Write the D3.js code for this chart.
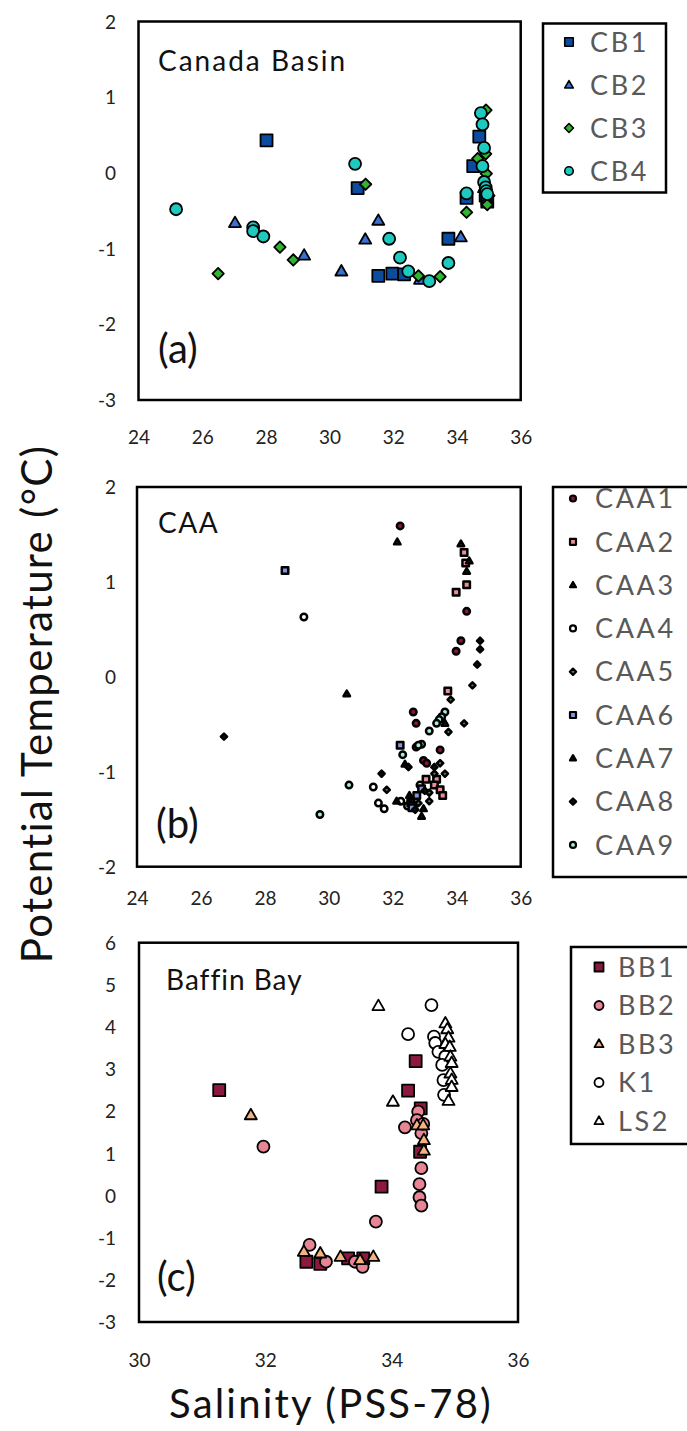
<!DOCTYPE html>
<html>
<head>
<meta charset="utf-8">
<script src="https://cdn.jsdelivr.net/npm/d3@7"></script>
<style>
  html, body { margin: 0; padding: 0; background: #fff; }
  svg { display: block; font-family: Lato, "Open Sans", sans-serif; }
</style>
</head>
<body>
<svg id="chart" width="687" height="1431"></svg>
<script>
// ---- Canada Basin: salinity / potential temperature pairs ----
const cb1 = [[28.02,0.43],[30.88,-0.2],[34.7,0.48],[34.51,0.09],[34.3,-0.33],[31.53,-1.36],[31.97,-1.33],[32.34,-1.34],[33.73,-0.87],[34.9,-0.3],[34.95,-0.38]];
const cb2 = [[27.03,-0.66],[29.2,-1.09],[30.37,-1.3],[31.53,-0.63],[31.12,-0.88],[32.84,-1.41],[34.12,-0.85],[34.85,-0.2],[34.95,-0.35]];
const cb3 = [[26.5,-1.33],[28.44,-0.98],[28.86,-1.15],[31.13,-0.15],[32.79,-1.36],[33.47,-1.37],[34.3,-0.52],[34.91,0.83],[34.65,0.19],[34.9,0.25],[34.92,-0.01],[35.0,-0.3],[34.95,-0.42]];
const cb4 = [[25.18,-0.48],[27.6,-0.72],[27.6,-0.77],[27.92,-0.84],[30.8,0.12],[31.87,-0.87],[32.21,-1.12],[32.47,-1.3],[33.13,-1.43],[33.73,-1.19],[34.3,-0.27],[34.75,0.79],[34.8,0.64],[34.85,0.33],[34.8,0.09],[34.85,-0.12],[34.9,-0.19],[34.92,-0.24],[34.95,-0.28]];

// ---- Canadian Arctic Archipelago ----
const caa1 = [[32.23,1.59],[34.31,0.69],[34.13,0.38],[33.98,0.27],[32.64,-0.37],[32.73,-0.49],[32.73,-0.74],[33.48,-0.77],[32.96,-0.88],[33.06,-0.91]];
const caa2 = [[34.23,1.31],[34.28,1.2],[34.31,0.97],[33.98,0.89],[33.72,-0.15],[33.04,-1.08],[33.37,-1.08],[33.3,-1.14],[33.48,-1.19],[33.56,-1.25]];
const caa3 = [[32.14,1.42],[34.13,1.4],[34.39,1.22],[34.31,1.11],[30.56,-0.18],[33.63,-0.49]];
const caa4 = [[29.22,0.63],[31.39,-1.16],[31.55,-1.33],[31.73,-1.39],[32.25,-1.31],[32.46,-1.36],[32.64,-1.37],[32.85,-1.14]];
const caa5 = [[34.49,-0.09],[33.81,-0.24],[34.23,-0.49],[33.74,-0.58],[33.48,-0.91],[33.63,-1.02],[33.3,-1.02],[31.81,-1.19],[33.14,-1.31],[33.14,-1.22],[32.8,-1.33]];
const caa6 = [[28.63,1.12],[32.23,-0.72],[32.75,-1.25],[32.56,-1.33],[32.6,-1.38],[32.9,-1.18]];
const caa7 = [[32.38,-0.92],[32.12,-1.31],[32.96,-1.39],[32.9,-1.47],[32.52,-1.25],[32.6,-1.3]];
const caa8 = [[26.72,-0.63],[34.73,0.38],[34.73,0.29],[34.64,0.13],[32.49,-0.95],[31.65,-1.02],[33.3,-0.95],[32.7,-1.4],[33.0,-1.2]];
const caa9 = [[33.63,-0.37],[33.53,-0.42],[33.45,-0.45],[33.37,-0.49],[33.14,-0.57],[32.9,-0.71],[32.31,-0.82],[30.63,-1.14],[29.72,-1.45],[32.8,-0.72]];

// ---- Baffin Bay ----
const bb1 = [[31.27,2.5],[34.38,3.19],[34.26,2.49],[34.46,2.07],[34.45,1.04],[33.84,0.21],[32.65,-1.57],[32.87,-1.62],[33.31,-1.49],[33.55,-1.49]];
const bb2 = [[31.97,1.16],[34.21,1.62],[34.42,1.99],[34.4,1.79],[34.47,1.48],[34.5,1.7],[34.47,0.65],[34.44,0.27],[34.44,-0.04],[34.47,-0.24],[33.75,-0.62],[32.7,-1.17],[32.96,-1.57],[33.42,-1.57],[33.54,-1.69]];
const bb3 = [[31.77,1.91],[34.4,1.67],[34.5,1.67],[34.51,1.32],[34.51,1.07],[32.61,-1.33],[32.87,-1.37],[33.19,-1.45],[33.5,-1.53],[33.71,-1.45]];
const k1  = [[34.63,4.52],[34.26,3.83],[34.67,3.77],[34.69,3.62],[34.74,3.41],[34.85,3.3],[34.8,3.1],[34.82,2.74],[34.83,2.39]];
const ls2 = [[33.79,4.5],[34.02,2.23],[34.85,4.09],[34.88,3.95],[34.9,3.75],[34.85,3.6],[34.92,3.53],[34.93,3.3],[34.95,3.15],[34.93,2.9],[34.95,2.75],[34.95,2.58],[34.9,2.25]];

// ---- tick labels ----
const xTicksWide = [24, 26, 28, 30, 32, 34, 36];
const xTicksNarrow = [30, 32, 34, 36];
const yTicksA = [-3, -2, -1, 0, 1, 2];
const yTicksB = [-2, -1, 0, 1, 2];
const yTicksC = [-3, -2, -1, 0, 1, 2, 3, 4, 5, 6];

const svg = d3.select("#chart");

// marker outline of a given overall width, centred at the origin
function markerPath(shape, w) {
  const p = d3.path();
  const h = w / 2;
  if (shape === "square") {
    p.rect(-h, -h, w, w);
  } else if (shape === "circle") {
    p.arc(0, 0, h, 0, 2 * Math.PI);
    p.closePath();
  } else if (shape === "triangle") {
    const th = w * 0.87;
    p.moveTo(0, -th * 0.6);
    p.lineTo(h, th * 0.4);
    p.lineTo(-h, th * 0.4);
    p.closePath();
  } else if (shape === "diamond") {
    p.moveTo(0, -h); p.lineTo(h, 0); p.lineTo(0, h); p.lineTo(-h, 0); p.closePath();
  }
  return p.toString();
}

const intLabel = d => (d < 0 ? "-" + Math.abs(d) : String(d));

function drawPanel(cfg) {
  const x = d3.scaleLinear().domain(cfg.xDomain).range([cfg.left, cfg.right]);
  const y = d3.scaleLinear().domain(cfg.yDomain).range([cfg.bottom, cfg.top]);
  const g = svg.append("g");

  // axes carry only the labels; the frame is drawn separately
  const xAxis = d3.axisBottom(x).tickValues(cfg.xTicks).tickSize(0).tickPadding(0).tickFormat(intLabel);
  const ga = g.append("g").attr("transform", `translate(0,${cfg.bottom})`).call(xAxis);
  ga.select(".domain").remove();
  ga.selectAll("text").attr("dy", null).attr("y", cfg.xLabelOffset)
    .attr("font-size", 19).attr("fill", "#222").attr("font-family", "Lato");

  const yAxis = d3.axisLeft(y).tickValues(cfg.yTicks).tickSize(0).tickPadding(0).tickFormat(intLabel);
  const gy = g.append("g").attr("transform", `translate(${cfg.yLabelX},0)`).call(yAxis);
  gy.select(".domain").remove();
  gy.selectAll("text").attr("dy", "0.35em").attr("x", 0)
    .attr("font-size", 19).attr("fill", "#222").attr("font-family", "Lato");

  // series markers
  cfg.series.forEach(s => {
    g.append("g").selectAll("path").data(s.data).join("path")
      .attr("d", markerPath(s.shape, s.shape === "diamond" ? cfg.size * 0.95 : cfg.size))
      .attr("transform", d => `translate(${x(d[0])},${y(d[1])})`)
      .attr("fill", s.fill)
      .attr("stroke", "#000")
      .attr("stroke-width", cfg.stroke)
      .attr("stroke-linejoin", "round");
  });

  // plot frame
  g.append("rect")
    .attr("x", cfg.left).attr("y", cfg.top)
    .attr("width", cfg.right - cfg.left).attr("height", cfg.bottom - cfg.top)
    .attr("fill", "none").attr("stroke", "#000").attr("stroke-width", 2.5);

  g.append("text").attr("x", cfg.titleX).attr("y", cfg.titleY)
    .attr("font-size", 28).attr("letter-spacing", cfg.titleSpacing).attr("fill", "#111")
    .text(cfg.title);
  g.append("text").attr("x", cfg.tagX).attr("y", cfg.tagY)
    .attr("font-size", 40).attr("fill", "#111").text(cfg.tag);

  // legend
  const L = cfg.legend;
  g.append("rect").attr("x", L.x).attr("y", L.y).attr("width", L.w).attr("height", L.h)
    .attr("fill", "#fff").attr("stroke", "#000").attr("stroke-width", 2.5);
  cfg.series.forEach((s, i) => {
    const cy = L.firstY + i * L.step;
    g.append("path")
      .attr("d", markerPath(s.shape, s.shape === "diamond" ? L.size * 1.05 : L.size))
      .attr("transform", `translate(${L.markX},${cy})`)
      .attr("fill", s.fill).attr("stroke", "#000").attr("stroke-width", L.stroke)
      .attr("stroke-linejoin", "round");
    g.append("text").attr("x", L.textX).attr("y", cy).attr("dy", "0.36em")
      .attr("font-size", L.font).attr("letter-spacing", 2.6).attr("fill", "#595959")
      .text(s.name);
  });
}

drawPanel({
  xDomain: [24, 36], yDomain: [-3, 2], xTicks: xTicksWide, yTicks: yTicksA,
  left: 138.5, right: 520.7, top: 21.5, bottom: 400,
  xLabelOffset: 44, yLabelX: 116,
  size: 12, stroke: 1.8,
  title: "Canada Basin", titleX: 158, titleY: 71, titleSpacing: 2,
  tag: "(a)", tagX: 158, tagY: 363,
  series: [
    { name: "CB1", data: cb1, shape: "square", fill: "#0b4c9f" },
    { name: "CB2", data: cb2, shape: "triangle", fill: "#3a72d4" },
    { name: "CB3", data: cb3, shape: "diamond", fill: "#2fb52f" },
    { name: "CB4", data: cb4, shape: "circle", fill: "#1ec9bf" }
  ],
  legend: { x: 543, y: 23.5, w: 123, h: 169, firstY: 42, step: 43, markX: 569,
            textX: 590, size: 8.5, stroke: 1.6, font: 27 }
});

drawPanel({
  xDomain: [24, 36], yDomain: [-2, 2], xTicks: xTicksWide, yTicks: yTicksB,
  left: 137, right: 520.7, top: 487, bottom: 866.7,
  xLabelOffset: 38, yLabelX: 116,
  size: 6.5, stroke: 2.5,
  title: "CAA", titleX: 158, titleY: 533, titleSpacing: 1.5,
  tag: "(b)", tagX: 156, tagY: 838,
  series: [
    { name: "CAA1", data: caa1, shape: "circle", fill: "#8c1538" },
    { name: "CAA2", data: caa2, shape: "square", fill: "#ec8e98" },
    { name: "CAA3", data: caa3, shape: "triangle", fill: "#222" },
    { name: "CAA4", data: caa4, shape: "circle", fill: "#ffffff" },
    { name: "CAA5", data: caa5, shape: "diamond", fill: "#4a8a55" },
    { name: "CAA6", data: caa6, shape: "square", fill: "#8597d6" },
    { name: "CAA7", data: caa7, shape: "triangle", fill: "#111" },
    { name: "CAA8", data: caa8, shape: "diamond", fill: "#111" },
    { name: "CAA9", data: caa9, shape: "circle", fill: "#a6ece2" }
  ],
  legend: { x: 553, y: 487, w: 160, h: 390, firstY: 498.5, step: 43.3, markX: 573,
            textX: 595, size: 6, stroke: 2.2, font: 27 }
});

drawPanel({
  xDomain: [30, 36], yDomain: [-3, 6], xTicks: xTicksNarrow, yTicks: yTicksC,
  left: 139, right: 518, top: 942.7, bottom: 1322,
  xLabelOffset: 45, yLabelX: 116,
  size: 12, stroke: 1.8,
  title: "Baffin Bay", titleX: 166, titleY: 990, titleSpacing: 1,
  tag: "(c)", tagX: 157, tagY: 1291,
  series: [
    { name: "BB1", data: bb1, shape: "square", fill: "#8c1a3e" },
    { name: "BB2", data: bb2, shape: "circle", fill: "#e88594" },
    { name: "BB3", data: bb3, shape: "triangle", fill: "#f5b27f" },
    { name: "K1", data: k1, shape: "circle", fill: "#ffffff" },
    { name: "LS2", data: ls2, shape: "triangle", fill: "#ffffff" }
  ],
  legend: { x: 571, y: 947, w: 140, h: 197, firstY: 967, step: 38.5, markX: 599,
            textX: 618, size: 9, stroke: 1.8, font: 27 }
});

// shared axis titles
svg.append("text").attr("x", 331).attr("y", 1418).attr("text-anchor", "middle")
  .attr("font-size", 40).attr("letter-spacing", 2.2).attr("fill", "#111").text("Salinity (PSS-78)");
svg.append("text").attr("transform", "translate(52,704) rotate(-90)").attr("text-anchor", "middle")
  .attr("font-size", 42).attr("letter-spacing", 1.3).attr("fill", "#111").text("Potential Temperature (°C)");
</script>
</body>
</html>
